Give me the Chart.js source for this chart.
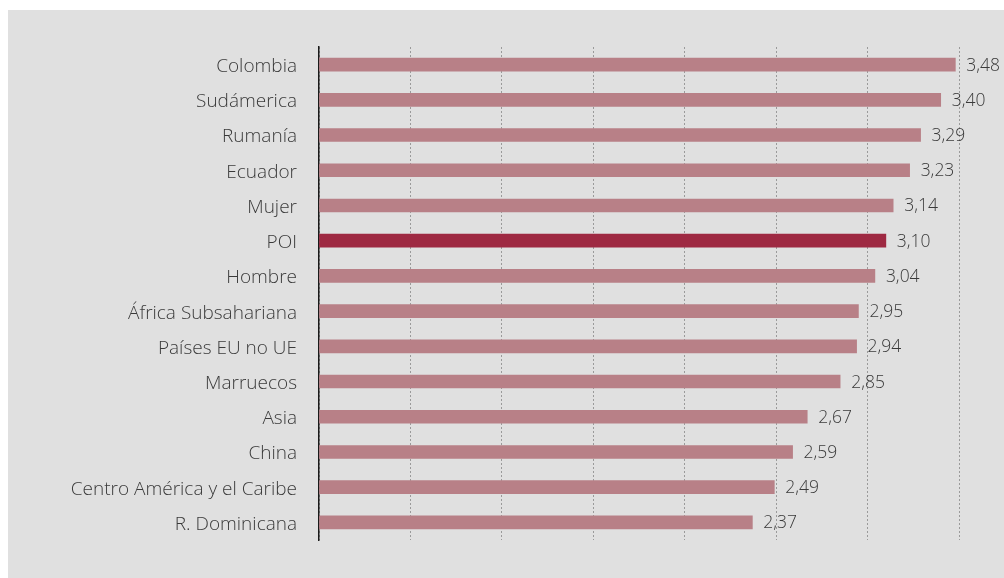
<!DOCTYPE html>
<html>
<head>
<meta charset="utf-8">
<script src="https://cdn.jsdelivr.net/npm/chart.js@4"></script>
<style>
html,body{margin:0;padding:0;background:#ffffff;}
#wrap{position:absolute;left:0;top:0;width:1004px;height:578px;}
</style>
</head>
<body>
<div id="wrap"><canvas id="c" width="1004" height="578"></canvas></div>
<script>
const categories = ["Colombia","Sudámerica","Rumanía","Ecuador","Mujer","POI","Hombre","África Subsahariana","Países EU no UE","Marruecos","Asia","China","Centro América y el Caribe","R. Dominicana"];
const values = [3.48,3.40,3.29,3.23,3.14,3.10,3.04,2.95,2.94,2.85,2.67,2.59,2.49,2.37];
const valueLabels = ["3,48","3,40","3,29","3,23","3,14","3,10","3,04","2,95","2,94","2,85","2,67","2,59","2,49","2,37"];
const highlight = "POI";

const FONT = '"Open Sans", Lato, sans-serif';

const bgPlugin = {
  id:'bg',
  beforeDraw(chart){
    const ctx = chart.ctx;
    ctx.save();
    ctx.fillStyle = '#ffffff';
    ctx.fillRect(0,0,chart.width,chart.height);
    ctx.fillStyle = '#e0e0e0';
    ctx.fillRect(8,10,chart.width-8,chart.height-10);
    ctx.restore();
  }
};
const labelPlugin = {
  id:'vlabels',
  afterDatasetsDraw(chart){
    const ctx = chart.ctx;
    const meta = chart.getDatasetMeta(0);
    ctx.save();
    ctx.font = '300 17.5px ' + FONT;
    ctx.fillStyle = '#3a3a3a';
    ctx.textAlign = 'left';
    ctx.textBaseline = 'middle';
    meta.data.forEach((bar,i)=>{
      ctx.fillText(valueLabels[i], bar.x + 11, bar.y + 1);
    });
    ctx.restore();
  }
};

new Chart(document.getElementById('c'), {
  type:'bar',
  data:{
    labels:categories,
    datasets:[{
      data:values,
      backgroundColor:categories.map(c=>c===highlight?'#9e2942':'#b88087'),
      barThickness:13,
      borderWidth:0
    }]
  },
  options:{
    indexAxis:'y',
    responsive:false,
    animation:false,
    devicePixelRatio:1,
    layout:{padding:{left:0,right:45,top:47,bottom:38}},
    plugins:{legend:{display:false},tooltip:{enabled:false}},
    scales:{
      x:{
        min:0,max:3.5,
        ticks:{display:false,stepSize:0.5},
        grid:{color:'#9a9a9a',lineWidth:1,drawTicks:false,tickLength:0},
        border:{display:false,dash:[2,2]},
        afterFit(s){s.height=0;}
      },
      y:{
        ticks:{color:'#3a3a3a',font:{family:FONT,size:19,weight:'300'},padding:22,labelOffset:2},
        grid:{display:false,drawTicks:false},
        border:{display:true,color:'#1a1a1a',width:1.5},
        afterFit(s){s.width=319;}
      }
    }
  },
  plugins:[bgPlugin,labelPlugin]
});
</script>
</body>
</html>
